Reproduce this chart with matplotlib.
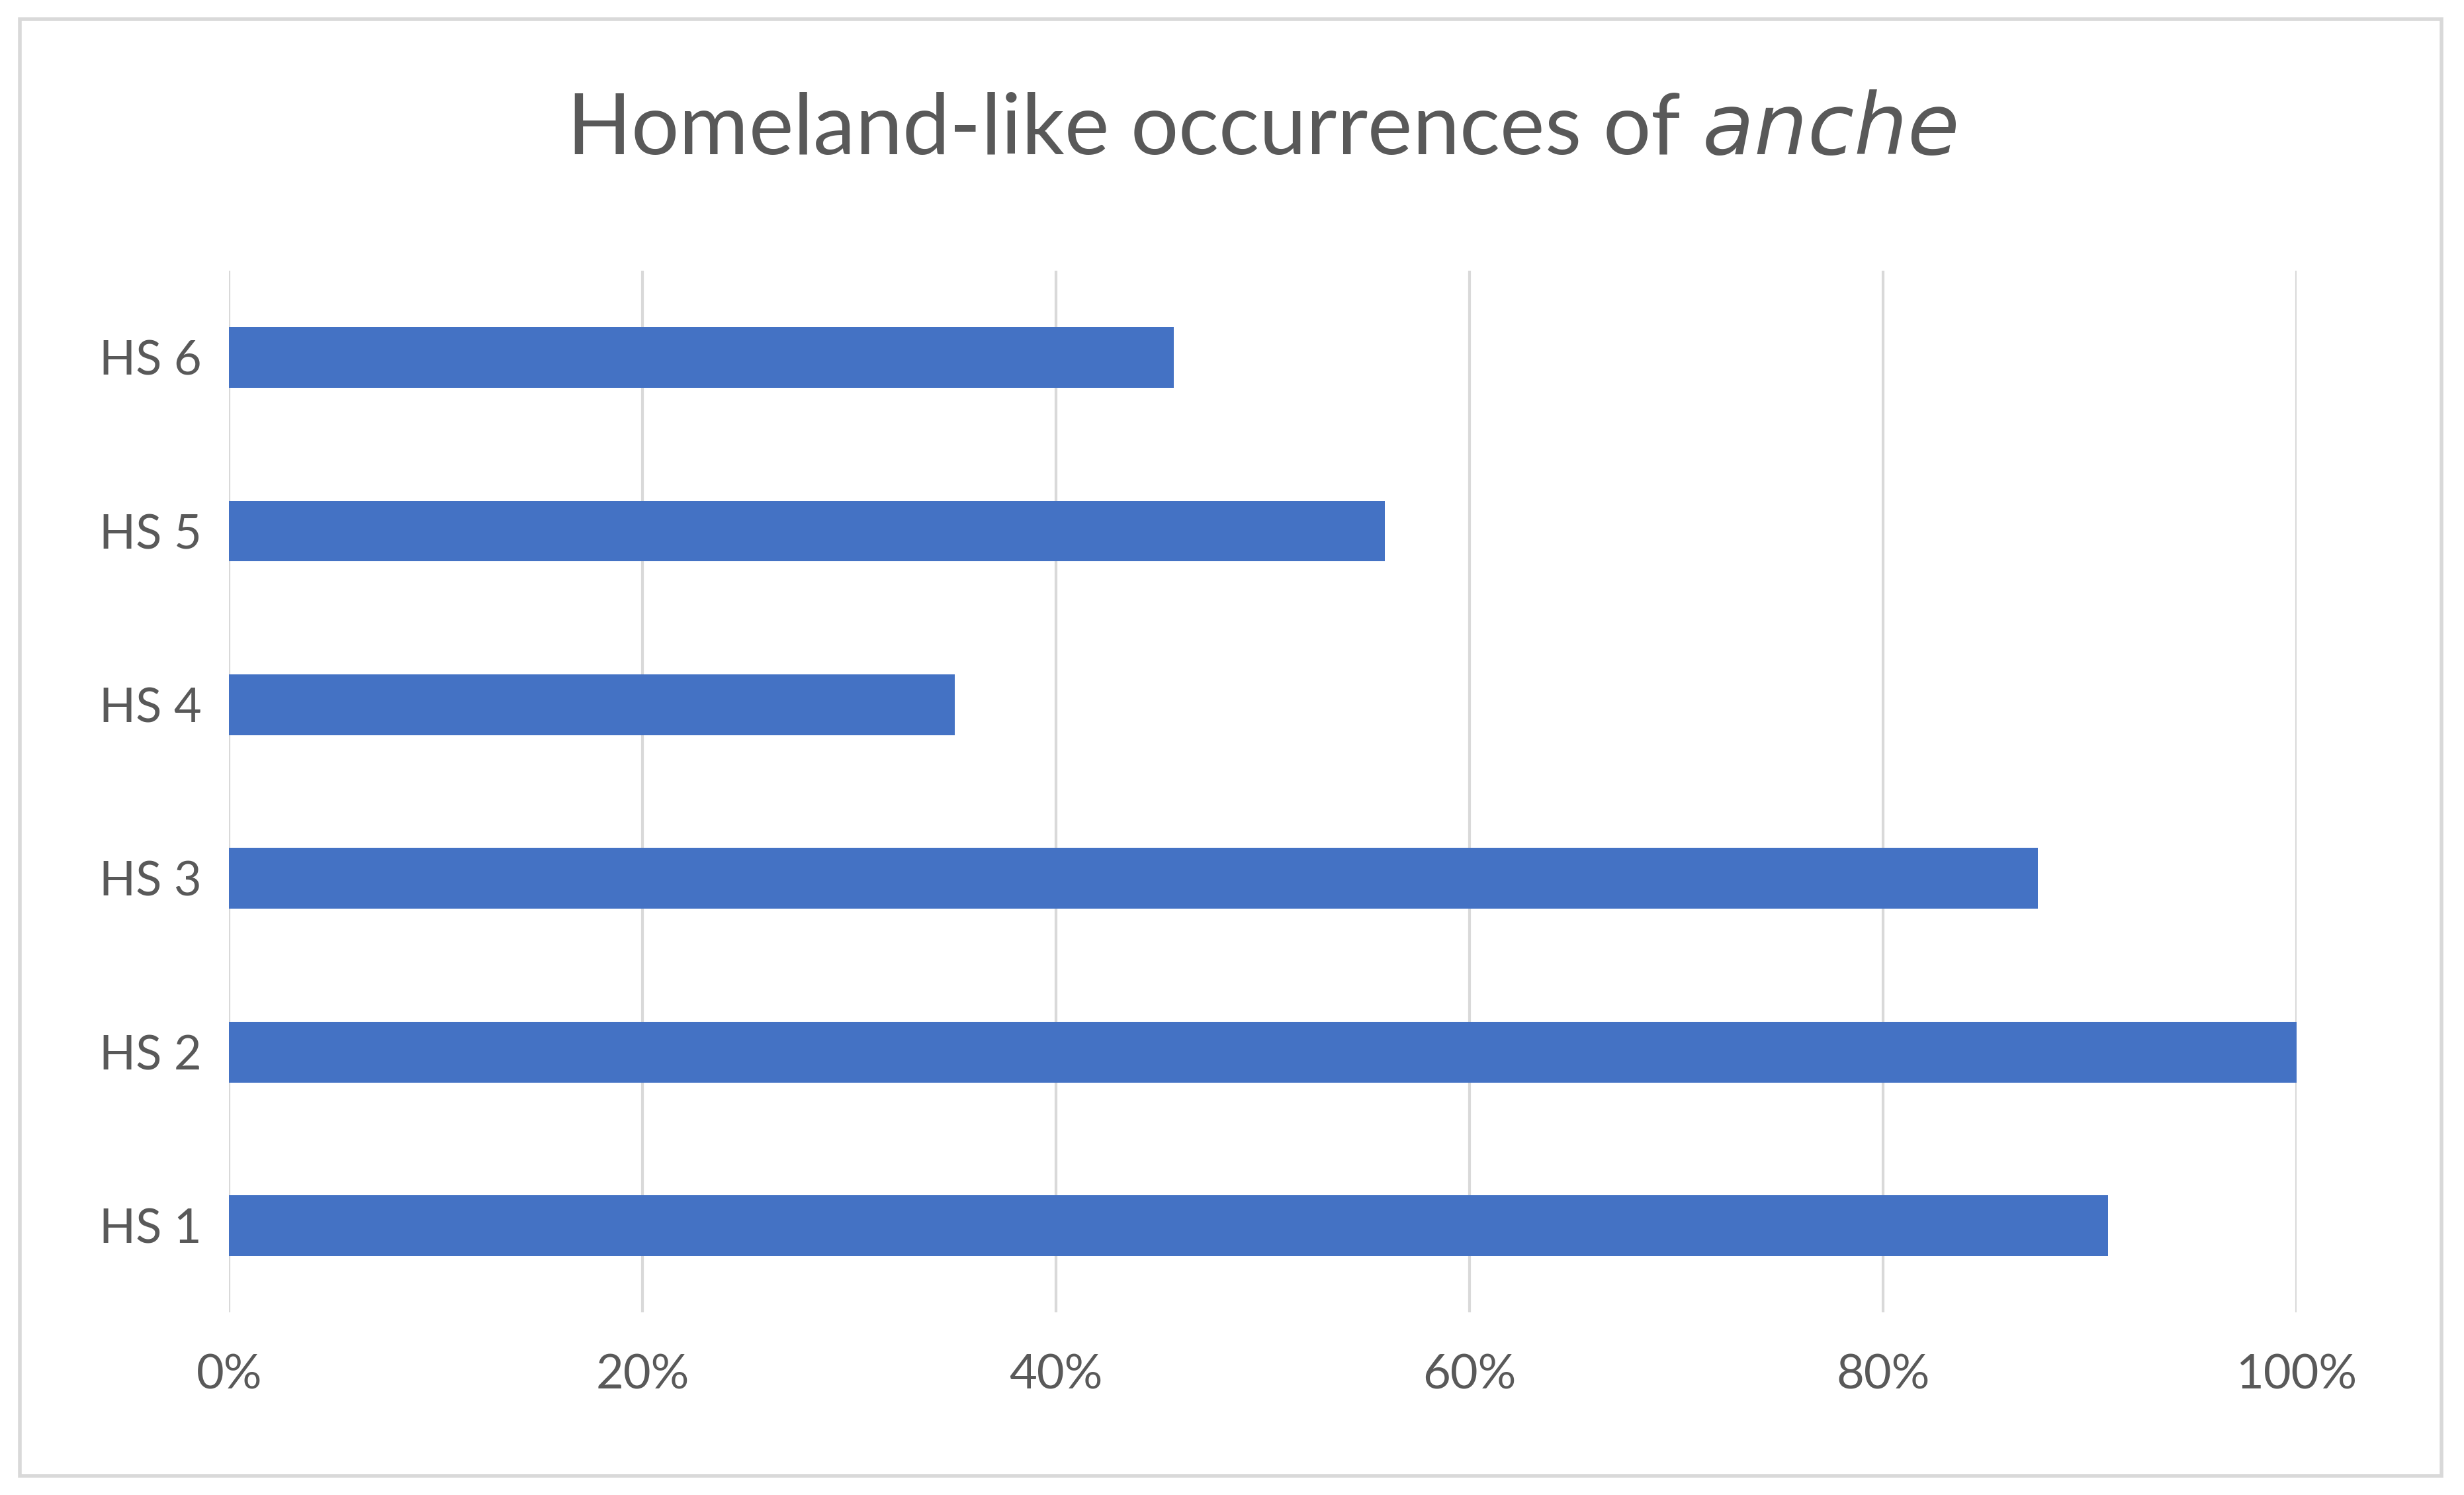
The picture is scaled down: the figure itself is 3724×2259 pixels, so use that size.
import matplotlib
matplotlib.use("Agg")
import matplotlib.pyplot as plt
from matplotlib.patches import Rectangle
from matplotlib.ticker import PercentFormatter

categories = ["HS 1", "HS 2", "HS 3", "HS 4", "HS 5", "HS 6"]
values = [90.9, 100.0, 87.5, 35.1, 55.9, 45.7]
xticks = [0, 20, 40, 60, 80, 100]

plt.rcParams['font.family'] = ['Lato', 'DejaVu Sans']
fig = plt.figure(figsize=(37.24, 22.59), dpi=100)
ax = fig.add_axes([0.093, 0.122, 0.839, 0.697])
ax.barh(range(len(categories)), values, height=0.35, color="#4472C4", zorder=3)
ax.set_xlim(0, 100)
ax.set_ylim(-0.5, len(categories) - 0.5)
ax.set_yticks(range(len(categories)))
ax.set_yticklabels(categories)
ax.set_xticks(xticks)
ax.xaxis.set_major_formatter(PercentFormatter(decimals=0))
ax.grid(axis="x", color="#D9D9D9", linewidth=3, zorder=0)
for s in ax.spines.values():
    s.set_visible(False)
ax.tick_params(length=0, labelsize=52, colors="#595959", pad=30)
ax.tick_params(axis="x", pad=45)
fig.text(0.512, 0.913, "Homeland-like occurrences of $\\it{anche}$", ha="center", va="center",
         fontsize=92, color="#595959")
fig.patches.append(Rectangle((0.008, 0.013), 0.983, 0.974, transform=fig.transFigure,
                             fill=False, edgecolor="#D9D9D9", linewidth=4))
fig.savefig("out.png", dpi=100, facecolor="white")
